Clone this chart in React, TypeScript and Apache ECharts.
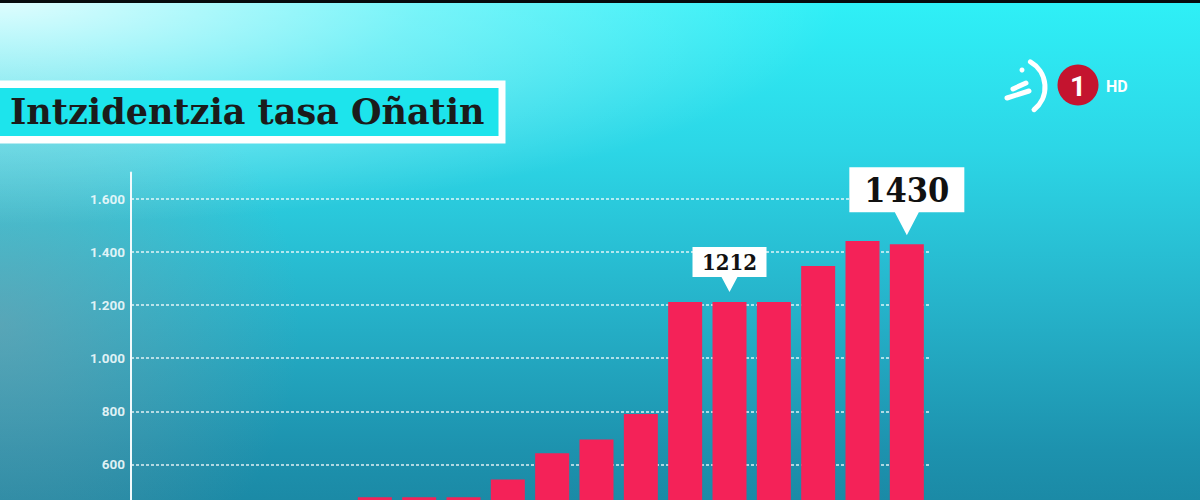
import React, { useEffect, useRef } from "react";
import * as echarts from "echarts";

// ---- data ----
const categories = [
  "E1", "E2", "E3", "E4", "E5", "E6", "E7", "E8", "E9",
  "E10", "E11", "E12", "E13", "E14", "E15", "E16", "E17", "E18",
];
// first five values lie below the visible part of the chart (not readable)
const incidence: (number | null)[] = [
  null, null, null, null, null,
  476, 476, 476, 543, 642, 694, 790,
  1212, 1212, 1212, 1348, 1442, 1430,
];
const calloutIndex = [13, 17];
const yRange = [465.5, 1700];
const titleText = "Intzidentzia tasa Oñatin";

const fmt = (v: number) =>
  v >= 1000 ? `${Math.floor(v / 1000)}.${String(v % 1000).padStart(3, "0")}` : String(v);

export default function App() {
  const ref = useRef<HTMLDivElement>(null);
  useEffect(() => {
    if (!ref.current) return;
    const chart = echarts.init(ref.current, undefined, { renderer: "svg" });
    const small = "path://M0,0 L74,0 L74,30 L45,30 L37,45 L29,30 L0,30 Z";
    const big = "path://M0,0 L115,0 L115,45 L69.5,45 L57.5,68 L45.5,45 L0,45 Z";
    const serif = "'DejaVu Serif Condensed', 'DejaVu Serif', serif";
    chart.setOption({
      animation: false,
      backgroundColor: "transparent",
      grid: { left: 131, right: 271, top: 172.5, bottom: 0, containLabel: false },
      xAxis: {
        type: "category",
        data: categories,
        axisLine: { show: false },
        axisTick: { show: false },
        axisLabel: { show: false },
        splitLine: { show: false },
      },
      yAxis: {
        type: "value",
        min: yRange[0],
        max: yRange[1],
        splitNumber: 6,
        axisLine: { show: true, lineStyle: { color: "#f2fbfd", width: 2 } },
        axisTick: { show: false },
        axisLabel: {
          color: "rgba(240,250,252,0.92)",
          fontSize: 13.5,
          fontWeight: "bold",
          fontFamily: "Roboto",
          margin: 6,
          showMaxLabel: false,
          showMinLabel: false,
          formatter: (v: number) => (v % 200 === 0 ? fmt(v) : ""),
        },
        splitLine: {
          show: true,
          showMaxLine: false,
          showMinLine: false,
          lineStyle: { color: "rgba(255,255,255,0.85)", type: [3, 2], width: 1.5 },
        },
      },
      series: [
        {
          type: "bar",
          data: incidence,
          barWidth: 34,
          itemStyle: { color: "#f42258" },
          markPoint: {
            symbolKeepAspect: false,
            itemStyle: { color: "#ffffff" },
            label: { color: "#111", fontWeight: "bold", fontFamily: serif },
            data: [
              {
                coord: [calloutIndex[0], incidence[calloutIndex[0]]],
                value: incidence[calloutIndex[0]],
                symbol: small,
                symbolSize: [74, 45],
                symbolOffset: [0, -32.5],
                label: { fontSize: 22, offset: [0, -7.5] },
              },
              {
                coord: [calloutIndex[1], incidence[calloutIndex[1]]],
                value: incidence[calloutIndex[1]],
                symbol: big,
                symbolSize: [115, 68],
                symbolOffset: [0, -43],
                label: { fontSize: 34, offset: [0, -11.5] },
              },
            ],
          },
        },
      ],
      graphic: [
        { type: "rect", shape: { x: 0, y: 0, width: 1200, height: 3 }, style: { fill: "#060b0d" } },
        { type: "rect", shape: { x: -10, y: 80.5, width: 515.5, height: 63 }, style: { fill: "#ffffff" } },
        { type: "rect", shape: { x: -10, y: 88, width: 508.5, height: 48 }, style: { fill: "#1de4ec" } },
        {
          type: "text",
          x: 10,
          y: 111,
          style: {
            text: titleText,
            font: "bold 35px 'DejaVu Serif', serif",
            fill: "#1b1b1b",
            verticalAlign: "middle",
          },
        },
        // logo
        {
          type: "arc",
          shape: { cx: 1016, cy: 87, r: 29, startAngle: -1.05, endAngle: 0.9 },
          style: { stroke: "#ffffff", lineWidth: 5, fill: "none", lineCap: "round" },
        },
        { type: "line", shape: { x1: 1013, y1: 89, x2: 1026, y2: 83 }, style: { stroke: "#fff", lineWidth: 5, lineCap: "round" } },
        { type: "line", shape: { x1: 1007, y1: 98, x2: 1029, y2: 91 }, style: { stroke: "#fff", lineWidth: 5, lineCap: "round" } },
        { type: "circle", shape: { cx: 1022, cy: 70, r: 2.5 }, style: { fill: "#fff" } },
        { type: "circle", shape: { cx: 1078, cy: 85, r: 20.5 }, style: { fill: "#c4142f" } },
        {
          type: "text",
          x: 1078,
          y: 86,
          style: { text: "1", font: "bold 28px Roboto", fill: "#fff", align: "center", verticalAlign: "middle" },
        },
        {
          type: "text",
          x: 1106,
          y: 86,
          style: { text: "HD", font: "bold 16px Roboto", fill: "#fff", align: "left", verticalAlign: "middle" },
        },
      ],
    });
    return () => chart.dispose();
  }, []);
  return (
    <div
      ref={ref}
      style={{
        position: "fixed",
        left: 0,
        top: 0,
        width: 1200,
        height: 500,
        background:
          "radial-gradient(ellipse 70% 45% at 0% 0%, rgba(255,255,255,0.85) 0%, rgba(255,255,255,0.35) 50%, rgba(255,255,255,0) 100%)," +
          "radial-gradient(ellipse 25% 60% at 0% 65%, rgba(150,155,165,0.45) 0%, rgba(150,155,165,0) 100%)," +
          "linear-gradient(180deg, #2ff0f7 0%, #2cd6e6 30%, #26b4cb 60%, #1d92ae 90%, #1b8aa6 100%)",
      }}
    />
  );
}
